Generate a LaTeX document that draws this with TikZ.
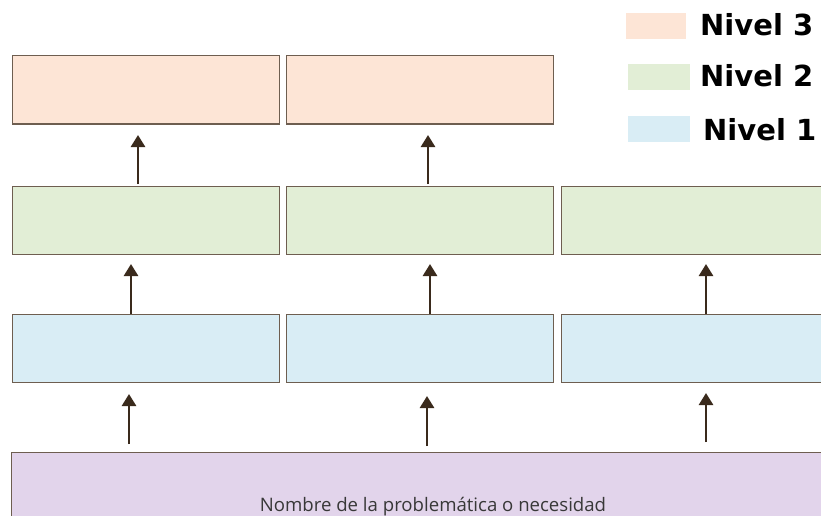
\documentclass[tikz,border=0pt]{standalone}
\usepackage{fontspec}
\newfontfamily\legfont{DejaVu Sans}
\newfontfamily\txtfont{Open Sans}
\usetikzlibrary{arrows.meta}
\definecolor{peach}{HTML}{FDE5D6}
\definecolor{lgreen}{HTML}{E2EED6}
\definecolor{lblue}{HTML}{D9EDF5}
\definecolor{lpurple}{HTML}{E2D4EB}
\definecolor{bord}{HTML}{6E5E50}
\definecolor{arr}{HTML}{3A2A1C}
\tikzset{
  box/.style={draw=bord, line width=1pt, rectangle},
  up/.style={draw=arr, line width=2.6pt, -{Triangle[length=12pt,width=14pt]}},
  leg/.style={anchor=base west, font=\legfont\bfseries\fontsize{29}{32}\selectfont, inner sep=0pt},
}
\begin{document}
\begin{tikzpicture}[x=1pt,y=-1pt]
\useasboundingbox (0,0) rectangle (821,516);
\clip (0,0) rectangle (821,516);
\fill[white] (0,0) rectangle (821,516);
% row 3 (top)
\path[box, fill=peach] (12,56) rectangle (279,124);
\path[box, fill=peach] (286,56) rectangle (553,124);
% row 2
\path[box, fill=lgreen] (12,186) rectangle (279,254);
\path[box, fill=lgreen] (286,186) rectangle (553,254);
\path[box, fill=lgreen] (561,186) rectangle (830,254);
% row 1
\path[box, fill=lblue] (12,314) rectangle (279,382);
\path[box, fill=lblue] (286,314) rectangle (553,382);
\path[box, fill=lblue] (561,314) rectangle (830,382);
% bottom
\path[box, fill=lpurple] (11,452) rectangle (830,530);
\node[font=\txtfont\fontsize{18.6}{21}\selectfont, text=black!78, anchor=base, inner sep=0pt] (prob) at (433,511) {Nombre de la problemática o necesidad};
% named arrow endpoints
\coordinate (a1s) at (138,184); \coordinate (a1e) at (138,135);
\coordinate (a2s) at (428,184); \coordinate (a2e) at (428,135);
\coordinate (b1s) at (131,314); \coordinate (b1e) at (131,264);
\coordinate (b2s) at (430,314); \coordinate (b2e) at (430,264);
\coordinate (b3s) at (706,314); \coordinate (b3e) at (706,264);
\coordinate (c1s) at (129,444); \coordinate (c1e) at (129,394);
\coordinate (c2s) at (427,446); \coordinate (c2e) at (427,396);
\coordinate (c3s) at (706,442); \coordinate (c3e) at (706,393);
\foreach \p in {a1,a2,b1,b2,b3,c1,c2,c3} \draw[up] (\p s) -- (\p e);
% legend
\fill[peach] (626,13) rectangle (686,39);
\fill[lgreen] (628,64) rectangle (690,90);
\fill[lblue] (628,116) rectangle (690,142);
\node[leg] (l3) at (700,35.5) {Nivel 3};
\node[leg] (l2) at (700,87) {Nivel 2};
\node[leg] (l1) at (703,140) {Nivel 1};
\end{tikzpicture}
\end{document}
